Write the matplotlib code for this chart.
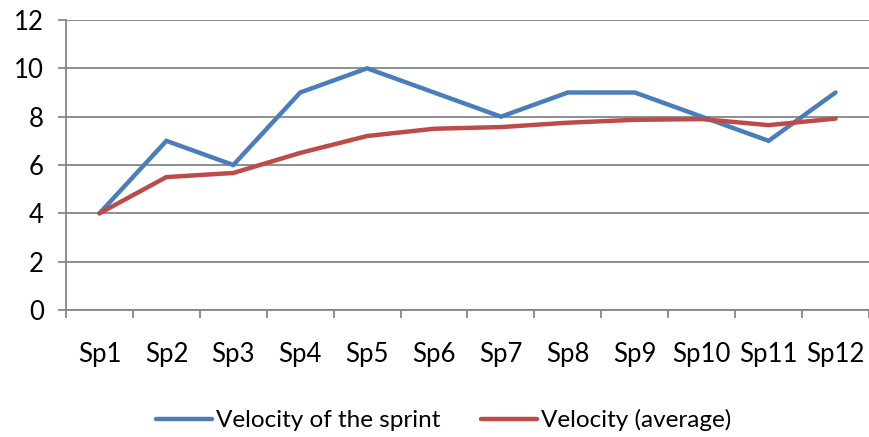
import matplotlib
matplotlib.use("Agg")
import matplotlib.pyplot as plt
import numpy as np

categories = ["Sp1", "Sp2", "Sp3", "Sp4", "Sp5", "Sp6", "Sp7", "Sp8", "Sp9", "Sp10", "Sp11", "Sp12"]
sprint_velocity = [4, 7, 6, 9, 10, 9, 8, 9, 9, 8, 7, 9]
average_velocity = [4, 5.5, 5.67, 6.5, 7.2, 7.5, 7.57, 7.75, 7.87, 7.9, 7.65, 7.92]

plt.rcParams['font.family'] = ['Lato', 'DejaVu Sans']

fig = plt.figure(figsize=(8.7, 4.37), dpi=100)
ax = fig.add_axes([66/870, 1-310/437, 803/870, 290/437])

x = np.arange(len(categories))
grid_c = "#868686"
ax.plot(x, sprint_velocity, color="#4A7EBB", lw=3.2, solid_capstyle="round", solid_joinstyle="miter",
        label="Velocity of the sprint", zorder=3)
ax.plot(x, average_velocity, color="#BE4B48", lw=3.2, solid_capstyle="round", solid_joinstyle="miter",
        label="Velocity (average)", zorder=3)

ax.set_xlim(-0.5, len(categories)-0.5)
ax.set_ylim(0, 12)
ax.set_yticks(range(0, 13, 2))
ax.yaxis.grid(True, color=grid_c, lw=1.3)
ax.set_axisbelow(True)

fs_tick = 18.5
fs_leg = 17.5
ax.set_xticks(x)
ax.set_xticklabels(categories)
ax.set_xticks(np.arange(-0.5, len(categories)), minor=True)
ax.tick_params(axis="x", which="major", length=0, pad=23, labelsize=fs_tick)
ax.tick_params(axis="x", which="minor", length=6, width=1.3, color=grid_c, direction="out")
ax.tick_params(axis="y", length=6, width=1.3, color=grid_c, labelsize=fs_tick, pad=10)

for s in ["top", "right"]:
    ax.spines[s].set_visible(False)
for s in ["left", "bottom"]:
    ax.spines[s].set_color(grid_c)
    ax.spines[s].set_linewidth(1.3)

leg = fig.legend(loc="center left", bbox_to_anchor=(156/870, 1-420/437), ncol=2, frameon=False,
                 fontsize=fs_leg, handlelength=2.3, handletextpad=0.15, columnspacing=1.7,
                 borderpad=0, borderaxespad=0)

fig.savefig("out.png", dpi=100)
